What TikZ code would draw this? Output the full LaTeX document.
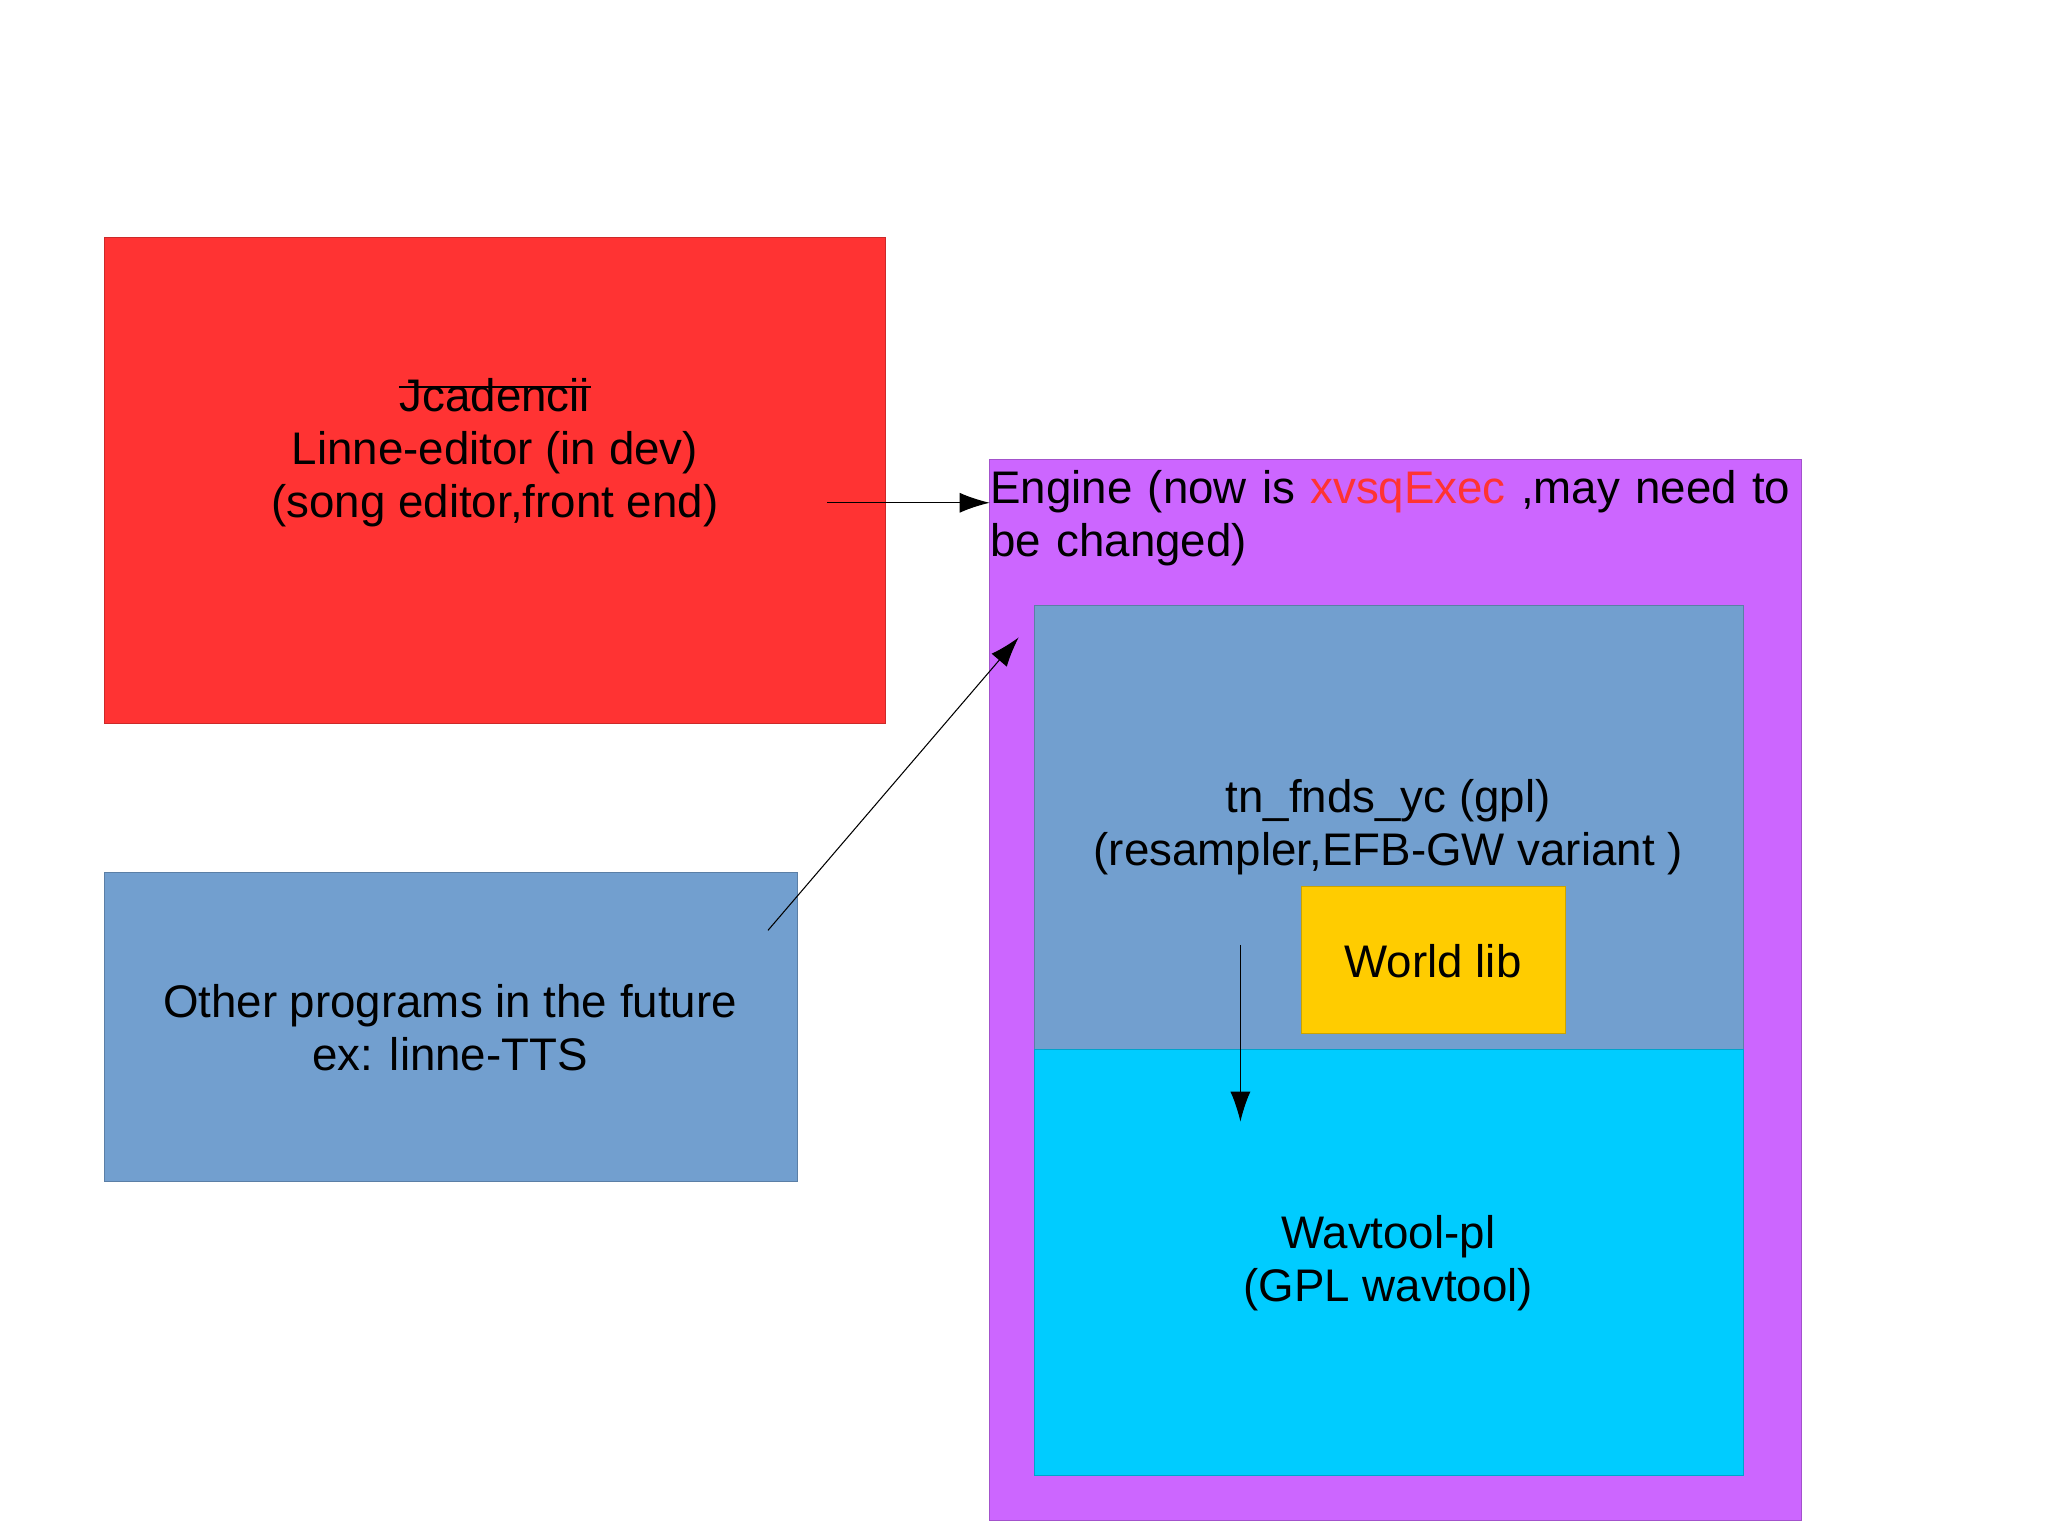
\documentclass[tikz,border=0pt]{standalone}
\usepackage{fontspec}
\setmainfont{Liberation Sans}
\usetikzlibrary{arrows.meta}
\definecolor{boxred}{HTML}{FF3333}
\definecolor{boxblue}{HTML}{729FCF}
\definecolor{boxpurple}{HTML}{CC66FF}
\definecolor{boxcyan}{HTML}{00CCFF}
\definecolor{boxyellow}{HTML}{FFCC00}
\definecolor{txtred}{HTML}{FF3333}
\newcommand{\strikeword}[1]{\tikz[baseline=(s.base)]{\node[inner sep=0pt] (s) {#1};\draw[line width=0.6pt] ([yshift=0.33ex]s.west) -- ([yshift=0.33ex]s.east);}}
\tikzset{
  block/.style={draw=#1!80!black, line width=0.3pt, fill=#1},
  label text/.style={font=\fontsize{13}{15}\selectfont, align=center},
  link/.style={-{Latex[length=0.3cm,width=0.2cm]}, line width=0.3pt}
}
\begin{document}
\begin{tikzpicture}[x=0.013196cm, y=-0.013196cm]
\useasboundingbox (0,0) rectangle (1552,1164);

% boxes
\fill[block=boxred] (79,180) rectangle (671,548);
\fill[block=boxblue] (79,661) rectangle (604,895);
\fill[block=boxpurple] (750,348) rectangle (1365,1152);
\fill[block=boxblue] (784,459) rectangle (1321,795);
\fill[block=boxcyan] (784,795) rectangle (1321,1118);
\fill[block=boxyellow] (986,672) rectangle (1186,783);

% texts
\node[label text] (editor) at (375,343) {\strikeword{Jcadencii}\\Linne-editor (in dev)\\(song editor,front end)};
\node[label text] (other) at (341,779) {Other programs in the future\\ex: linne-TTS};
\node[label text, align=left, anchor=north west, text width=8.2cm, inner sep=0pt] (engine) at (750,356)
  {Engine (now is \textcolor{txtred}{xvsqExec} ,may need to be changed)};
\node[label text] (resampler) at (1052,627) {tn\_fnds\_yc (gpl)\\(resampler,EFB-GW variant )};
\node[label text] (world) at (1086,728) {World lib};
\node[label text] (wavtool) at (1052,957) {Wavtool-pl\\(GPL wavtool)};

% connectors
\coordinate (e1) at (627,381);
\coordinate (e2) at (750,381);
\coordinate (o1) at (582,705);
\coordinate (o2) at (772,483);
\coordinate (r1) at (940,716);
\coordinate (r2) at (940,850);
\draw[link] (e1) -- (e2);
\draw[link] (o1) -- (o2);
\draw[link] (r1) -- (r2);
\end{tikzpicture}
\end{document}
